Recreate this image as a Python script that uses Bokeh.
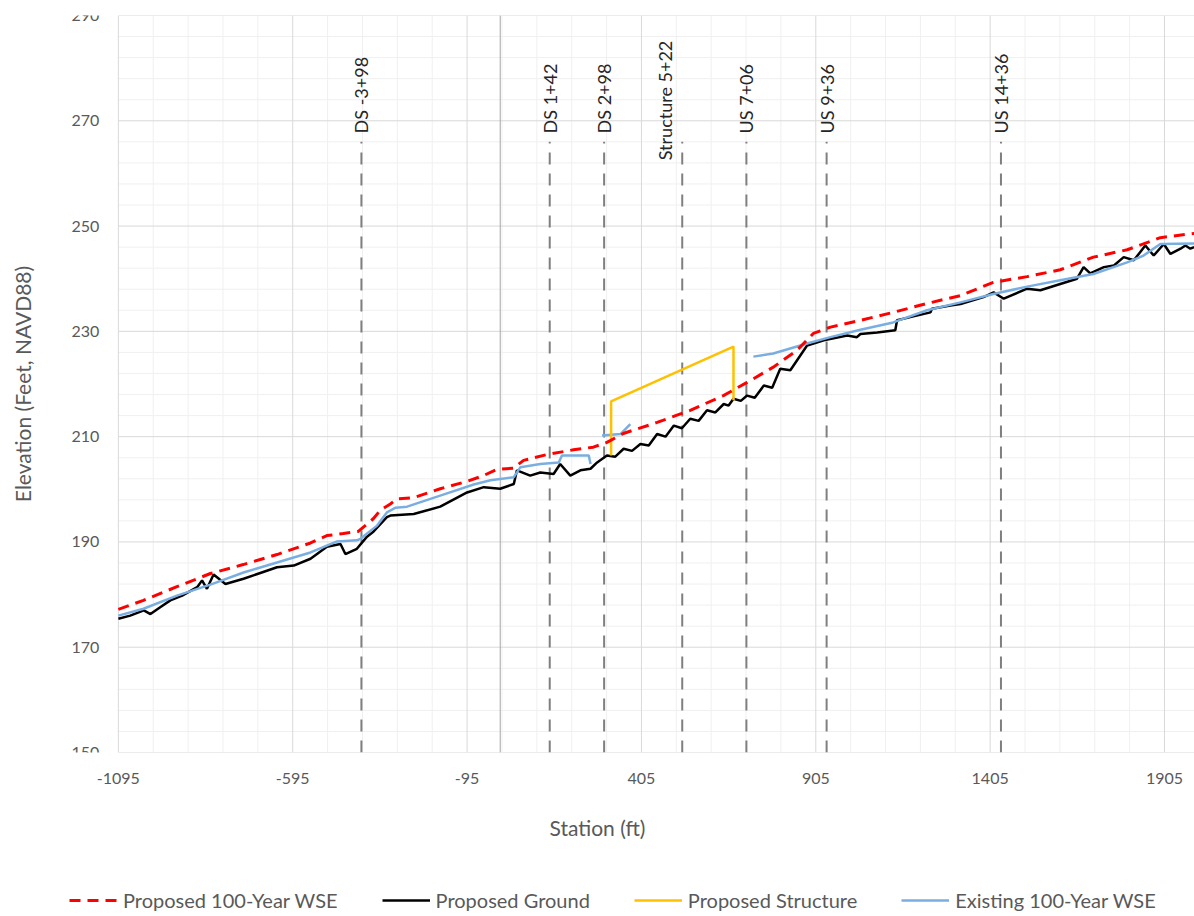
import math
from bokeh.plotting import figure
from bokeh.layouts import column
from bokeh.models import FixedTicker, Legend, LegendItem, Range1d, Span, CustomJSTickFormatter
from bokeh.core.properties import value
from bokeh.embed import file_html
from bokeh.resources import INLINE

nan = float("nan")

# ---------------- data ----------------
wse_station = [-1095, -1023, -927, -831, -737, -640, -544, -497, -450, -407, -364, -344, -315,
               -296, -249, -172, -95, -48, -9, 38, 67, 134, 210, 267, 306, 353, 450, 545, 640,
               708, 783, 851, 898, 947, 1033, 1127, 1224, 1320, 1414, 1511, 1606, 1701, 1798,
               1893, 1990]
wse_elev = [177.2, 178.9, 181.5, 184.0, 185.7, 187.6, 189.8, 191.2, 191.6, 192.0, 194.4, 196.0, 197.2,
            198.2, 198.4, 200.1, 201.5, 202.6, 203.8, 204.0, 205.5, 206.6, 207.5, 208.0, 208.9, 210.6,
            212.7, 215.0, 217.8, 220.3, 223.2, 226.4, 229.6, 230.8, 232.1, 233.6, 235.3, 236.8, 239.3,
            240.4, 241.7, 244.1, 245.5, 247.8, 248.6]

ground_station = [-1095, -1061, -1022, -1003, -975, -946, -912, -869, -855, -841, -822, -788, -736,
                  -688, -640, -592, -544, -497, -458, -444, -411, -382, -363, -325, -315, -248, -172,
                  -95, -47, 0, 39, 48, 86, 115, 153, 172, 201, 230, 259, 278, 306, 330, 354, 378, 402,
                  426, 450, 474, 498, 521, 545, 569, 593, 617, 641, 655, 669, 690, 708, 730, 756, 780,
                  803, 832, 880, 928, 995, 1023, 1033, 1081, 1133, 1138, 1176, 1234, 1238, 1291, 1320,
                  1386, 1415, 1444, 1511, 1549, 1606, 1654, 1673, 1692, 1731, 1760, 1788, 1817, 1850,
                  1874, 1903, 1922, 1951, 1965, 1979, 1990]
ground_elev = [175.4, 176.0, 177.0, 176.3, 177.6, 178.9, 179.8, 181.4, 182.7, 181.1, 183.8, 182.0, 183.0,
               184.1, 185.2, 185.5, 186.8, 189.1, 189.6, 187.7, 188.7, 191.0, 192.0, 194.7, 195.0, 195.3,
               196.7, 199.4, 200.4, 200.1, 201.0, 203.6, 202.6, 203.2, 202.9, 204.8, 202.6, 203.6, 203.9,
               205.1, 206.4, 206.2, 207.7, 207.3, 208.6, 208.3, 210.5, 210.0, 212.1, 211.6, 213.4, 213.0,
               215.0, 214.6, 216.2, 215.9, 217.2, 216.8, 217.8, 217.4, 219.7, 219.3, 222.9, 222.6, 227.3,
               228.3, 229.2, 228.9, 229.5, 229.8, 230.2, 232.1, 232.7, 233.6, 234.3, 234.9, 235.2, 236.5,
               237.4, 236.2, 238.1, 237.8, 239.0, 240.0, 242.2, 241.0, 242.2, 242.5, 244.1, 243.5, 246.3,
               244.4, 246.6, 244.7, 245.7, 246.3, 245.7, 246.0]

structure_station = [318, 318, 669, 669]
structure_elev = [206.4, 216.7, 227.1, 216.9]

existing_station = [-1095, -1023, -927, -831, -736, -640, -544, -468, -411, -401, -353, -325, -300,
                    -267, -172, -76, -28, 39, 58, 115, 168, 177, 254, 259, nan,
                    292, 345, 373, nan,
                    726, 783, 880, 947, 1033, 1127, 1224, 1320, 1414, 1511, 1606, 1701, 1798, 1845,
                    1893, 1990]
existing_elev = [176.0, 177.3, 179.8, 181.9, 184.2, 186.1, 188.0, 190.1, 190.3, 190.6, 193.1, 195.6, 196.5,
                 196.7, 198.8, 200.9, 201.7, 202.3, 204.2, 204.8, 205.1, 206.4, 206.4, 204.8, nan,
                 210.2, 210.5, 212.4, nan,
                 225.2, 225.8, 227.7, 228.9, 230.3, 231.7, 234.0, 235.5, 237.1, 238.5, 239.7, 240.9,
                 243.1, 244.4, 246.6, 246.7]

marker_station = [-398, 142, 298, 522, 706, 936, 1436]
marker_labels = ["DS -3+98", "DS 1+42", "DS 2+98", "Structure  5+22", "US 7+06", "US 9+36", "US 14+36"]
label_station = [-398, 142, 298, 474, 706, 936, 1436]
label_elev = [267.6, 267.6, 267.6, 262.5, 267.6, 267.6, 267.6]
marker_top = 266

series_names = ["Proposed 100-Year WSE", "Proposed Ground", "Proposed Structure", "Existing 100-Year WSE"]

x_ticks = [-1095, -595, -95, 405, 905, 1405, 1905]
x_minor = [-1095 + 100 * k for k in range(31)]
y_ticks = list(range(150, 291, 20))
y_minor = list(range(150, 291, 4))
y_tick_labels = [str(v) for v in y_ticks]

X_START, X_END = -1095, 1991
Y_MIN, Y_MAX = 150, 290
LEFT_PAD_FT = 338   # blank room left of the plot area (holds the y-axis texts)

FONT = "Lato"
TXT = "#595959"
MAJOR = "#d9d9d9"
MINOR = "#f0f0f0"
STYLES = [
    dict(line_color="#ff0000", line_width=3, line_dash="11 7"),
    dict(line_color="black", line_width=2.5),
    dict(line_color="#ffc000", line_width=2.5),
    dict(line_color="#7aaee0", line_width=2.5),
]

p = figure(width=1194, height=870, output_backend="svg", toolbar_location=None,
           x_range=Range1d(X_START - LEFT_PAD_FT, X_END), y_range=Range1d(Y_MIN, Y_MAX),
           y_axis_location=None,
           min_border_left=0, min_border_right=0, min_border_top=15, min_border_bottom=118)
p.outline_line_color = None
p.grid.visible = False

# x axis: labels + title only
p.xaxis.ticker = FixedTicker(ticks=x_ticks, minor_ticks=[])
p.xaxis.formatter = CustomJSTickFormatter(code="return String(Math.round(tick));")
p.xaxis.axis_line_color = None
p.xaxis.major_tick_line_color = None
p.xaxis.minor_tick_line_color = None
p.xaxis.major_label_text_font = FONT
p.xaxis.major_label_text_font_size = "16px"
p.xaxis.major_label_text_color = TXT
p.xaxis.major_label_standoff = 14
p.xaxis.axis_label = "Station (ft)"
p.xaxis.axis_label_text_font = FONT
p.xaxis.axis_label_text_font_size = "21px"
p.xaxis.axis_label_text_font_style = "normal"
p.xaxis.axis_label_text_color = TXT
p.xaxis.axis_label_standoff = 28

# gridlines of the plot area
vminor = [t for t in x_minor if t not in x_ticks]
hminor = [t for t in y_minor if t not in y_ticks]
p.segment(x0=vminor, y0=[Y_MIN] * len(vminor), x1=vminor, y1=[Y_MAX] * len(vminor),
          line_color=MINOR, line_width=1)
p.segment(x0=[X_START] * len(hminor), y0=hminor, x1=[X_END] * len(hminor), y1=hminor,
          line_color=MINOR, line_width=1)
p.segment(x0=x_ticks, y0=[Y_MIN] * len(x_ticks), x1=x_ticks, y1=[Y_MAX] * len(x_ticks),
          line_color=MAJOR, line_width=1)
p.segment(x0=[X_START] * len(y_ticks), y0=y_ticks, x1=[X_END] * len(y_ticks), y1=y_ticks,
          line_color=MAJOR, line_width=1)
p.segment(x0=[0], y0=[Y_MIN], x1=[0], y1=[Y_MAX], line_color="#a6a6a6", line_width=1)

# y axis texts
p.text(x=[X_START] * len(y_ticks), y=y_ticks, text=y_tick_labels, x_offset=-19,
       text_align="right", text_baseline="middle", text_font=value(FONT),
       text_font_size="16px", text_color=TXT)
p.text(x=[X_START], y=[(Y_MIN + Y_MAX) / 2], text=["Elevation (Feet, NAVD88)"], x_offset=-96,
       angle=math.pi / 2, text_align="center", text_baseline="middle", text_font=value(FONT),
       text_font_size="21px", text_color=TXT)

# station markers
p.segment(x0=marker_station, y0=[Y_MIN] * len(marker_station),
          x1=marker_station, y1=[marker_top] * len(marker_station),
          line_color="#7f7f7f", line_width=2, line_dash="12 9")
p.text(x=label_station, y=label_elev, text=marker_labels, angle=math.pi / 2,
       text_align="left", text_baseline="middle", text_font=value(FONT),
       text_font_size="18px", text_color="#262626")

p.line(ground_station, ground_elev, **STYLES[1])
p.line(existing_station, existing_elev, **STYLES[3])
p.line(structure_station, structure_elev, **STYLES[2])
p.line(wse_station, wse_elev, **STYLES[0])

# ---- legend strip below the chart (proxy renderers sit outside its visible range) ----
lg = figure(width=1194, height=46, output_backend="svg", toolbar_location=None,
            x_range=Range1d(0, 1), y_range=Range1d(0, 1),
            x_axis_location=None, y_axis_location=None,
            min_border_left=0, min_border_right=0, min_border_top=0, min_border_bottom=0)
lg.outline_line_color = None
lg.grid.visible = False
items = []
for name, st in zip(series_names, STYLES):
    r = lg.line([-5, -4], [-5, -4], **st)
    items.append(LegendItem(label=name, renderers=[r]))
legend = Legend(items=items, orientation="horizontal", location=(69, 4))
legend.label_text_font = FONT
legend.label_text_font_size = "20px"
legend.label_text_color = TXT
legend.glyph_width = 48
legend.label_standoff = 6
legend.spacing = 44
legend.padding = 0
legend.margin = 0
legend.border_line_color = None
legend.background_fill_alpha = 0
lg.add_layout(legend, "center")

layout = column(p, lg, spacing=0)
open("out.html", "w").write(file_html(layout, INLINE))
